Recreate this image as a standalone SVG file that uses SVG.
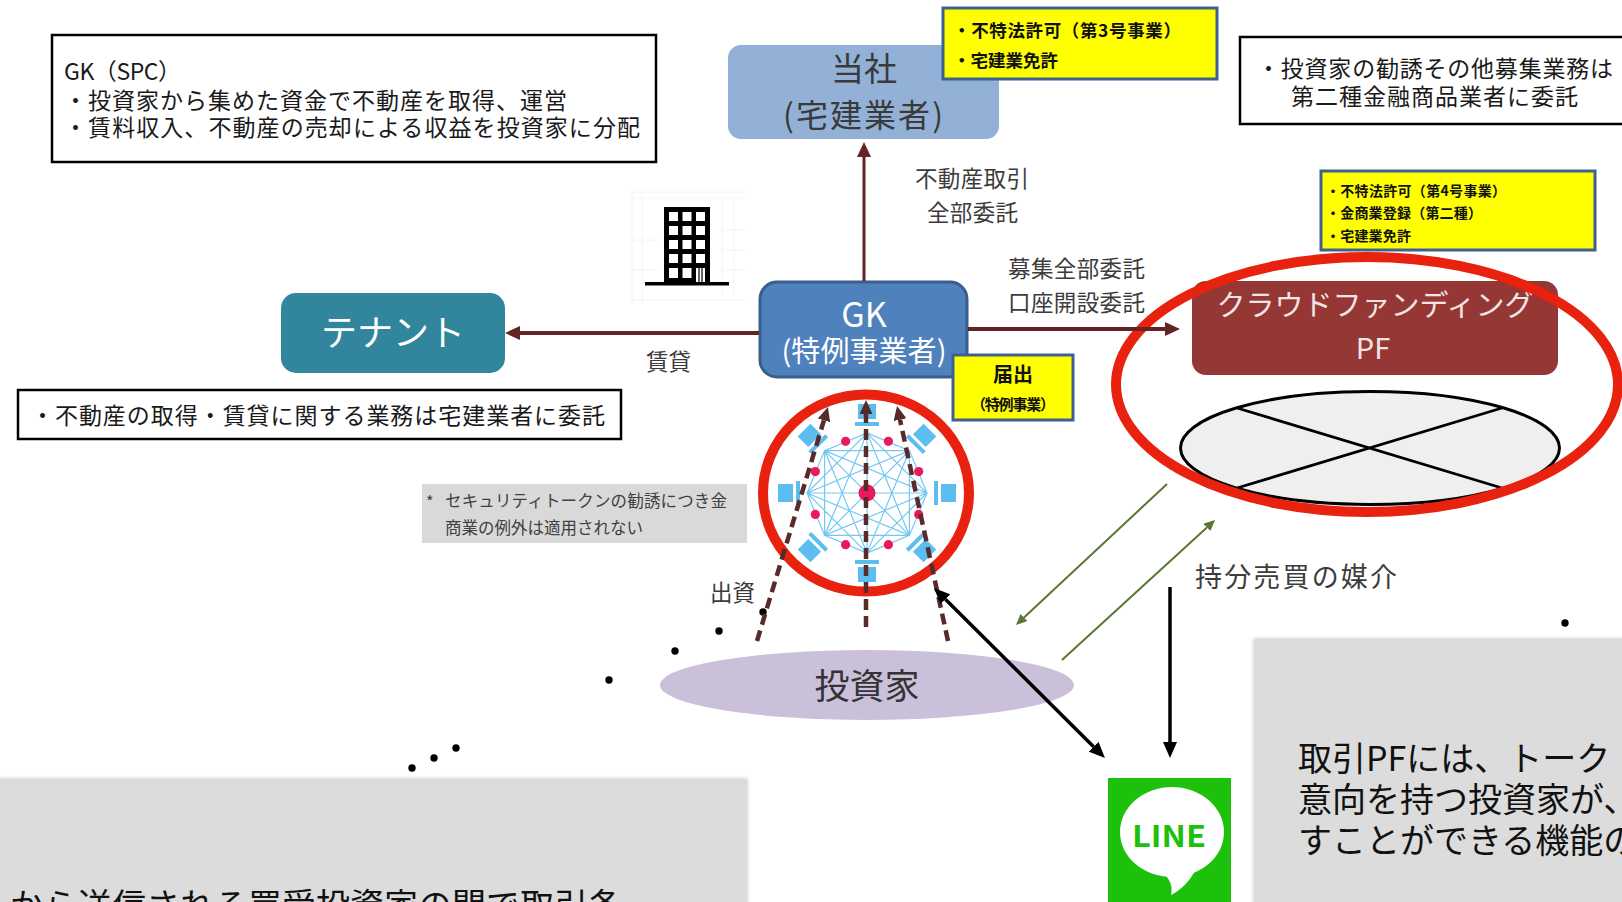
<svg xmlns="http://www.w3.org/2000/svg" width="1622" height="902" viewBox="0 0 1622 902">
  <style>
    text { font-family: 'Noto Sans CJK JP', 'Noto Sans', sans-serif; }
    .note { fill: #fff; stroke: #000; stroke-width: 2.5; }
    .tx { fill: #1a1a1a; font-size: 23px; }
    .lbl { fill: #3c3c3c; font-size: 22.5px; }
    .lbl-lg { fill: #3c3c3c; font-size: 27px; }
    .ybox { fill: #ffff00; stroke: #3e6190; stroke-width: 3; }
    .yb { fill: #111; font-weight: bold; }
    .wt { fill: #fff; }
    .mid { text-anchor: middle; }
    .maroon { stroke: #632523; fill: none; }
    .dash { stroke: #582a2a; stroke-width: 4.5; stroke-dasharray: 11 6; fill: none; }
    .blk { stroke: #000; stroke-width: 3.5; fill: none; }
    .olive { stroke: #5c7632; stroke-width: 2; fill: none; }
    .dot { fill: #000; }
    .panel { fill: #dcdcdc; }
    .net { stroke: #74c8f2; stroke-width: 1.2; fill: none; }
    .pcfill { fill: #5bbdf0; }
    .pink { fill: #e8195e; }
    .ring { fill: none; stroke: #e8220f; stroke-width: 10; }
  </style>
  <defs>
    <marker id="mh" viewBox="0 -7 15 14" refX="0" refY="0" markerWidth="15" markerHeight="14" markerUnits="userSpaceOnUse" orient="auto">
      <path d="M0,-7 L15,0 L0,7 z" fill="#632523"/>
    </marker>
    <marker id="dh" viewBox="0 -6.5 14 13" refX="0" refY="0" markerWidth="14" markerHeight="13" markerUnits="userSpaceOnUse" orient="auto">
      <path d="M0,-6.5 L14,0 L0,6.5 z" fill="#582a2a"/>
    </marker>
    <marker id="bh" viewBox="0 -7 16 14" refX="0" refY="0" markerWidth="16" markerHeight="14" markerUnits="userSpaceOnUse" orient="auto-start-reverse">
      <path d="M0,-7 L16,0 L0,7 z" fill="#000"/>
    </marker>
    <marker id="oh" viewBox="0 -5 11 10" refX="0" refY="0" markerWidth="11" markerHeight="10" markerUnits="userSpaceOnUse" orient="auto">
      <path d="M0,-5 L11,0 L0,5 z" fill="#5c7632"/>
    </marker>
    <!-- one terminal of the network, drawn pointing outward along -y -->
    <g id="pc">
      <rect x="-9" y="-89" width="18" height="15" class="pcfill"/>
      <rect x="-12" y="-71" width="24" height="4" class="pcfill"/>
    </g>
    <filter id="soft" x="-5%" y="-5%" width="110%" height="110%">
      <feDropShadow dx="0" dy="0" stdDeviation="2" flood-color="#000" flood-opacity="0.25"/>
    </filter>
  </defs>

  <!-- faint backdrop behind the building icon -->
  <g id="backdrop" stroke="#f4f4f4" stroke-width="1" fill="none">
    <path d="M630,192 H745 M630,198 H745 M630,300 H745 M632,192 V304 M642,192 V304 M722,200 V300 M734,200 V300 M722,230 H745 M722,250 H745 M722,270 H745 M630,240 H660 M630,270 H660"/>
  </g>

  <!-- building icon -->
  <g id="building">
    <rect x="664" y="207" width="46" height="76" fill="#000"/>
    <g fill="#fff">
      <rect x="669" y="212" width="9" height="9"/><rect x="682.5" y="212" width="9" height="9"/><rect x="696" y="212" width="9" height="9"/>
      <rect x="669" y="226" width="9" height="9"/><rect x="682.5" y="226" width="9" height="9"/><rect x="696" y="226" width="9" height="9"/>
      <rect x="669" y="240" width="9" height="9"/><rect x="682.5" y="240" width="9" height="9"/><rect x="696" y="240" width="9" height="9"/>
      <rect x="669" y="254" width="9" height="9"/><rect x="682.5" y="254" width="9" height="9"/><rect x="696" y="254" width="9" height="9"/>
      <rect x="669" y="268" width="9" height="10"/><rect x="682.5" y="268" width="9" height="10"/><rect x="696" y="268" width="9" height="15"/>
    </g>
    <path d="M699,268 V283 M702,268 V283" stroke="#000" stroke-width="1.2"/>
    <rect x="645" y="282" width="84" height="3.5" fill="#000"/>
  </g>

  <!-- explanatory notes -->
  <g id="note-gk-spc">
    <rect x="52" y="35" width="604" height="127" class="note"/>
    <text class="tx" x="64" y="80" textLength="117">GK（SPC）</text>
    <text class="tx" x="64" y="109" textLength="503">・投資家から集めた資金で不動産を取得、運営</text>
    <text class="tx" x="64" y="136" textLength="576">・賃料収入、不動産の売却による収益を投資家に分配</text>
  </g>
  <g id="note-solicitation">
    <rect x="1240" y="37" width="400" height="87" class="note"/>
    <text class="tx" x="1257" y="77" textLength="356">・投資家の勧誘その他募集業務は</text>
    <text class="tx" x="1291" y="105" textLength="287">第二種金融商品業者に委託</text>
  </g>
  <g id="note-realestate">
    <rect x="18" y="390" width="603" height="49" class="note"/>
    <text class="tx" x="31" y="424" textLength="574">・不動産の取得・賃貸に関する業務は宅建業者に委託</text>
  </g>
  <g id="note-security-token">
    <rect x="422" y="484" width="325" height="59" fill="#d9d9d9"/>
    <text x="426" y="508" font-size="16" fill="#404040">*</text>
    <text x="445" y="507" font-size="16.5" fill="#404040" textLength="282">セキュリティトークンの勧誘につき金</text>
    <text x="445" y="534" font-size="16.5" fill="#404040" textLength="198">商業の例外は適用されない</text>
  </g>

  <!-- 当社 -->
  <g id="node-company">
    <rect x="728" y="45" width="271" height="94" rx="13" fill="#93b1d6"/>
    <text class="mid" x="864" y="81" font-size="33" fill="#3a3a3a">当社</text>
    <text class="mid" x="863" y="127" font-size="32" fill="#3a3a3a" textLength="160">(宅建業者)</text>
  </g>
  <g id="license-company">
    <rect x="943" y="8" width="274" height="71" class="ybox"/>
    <text class="yb" x="953" y="37" font-size="17.5" textLength="228">・不特法許可（第3号事業）</text>
    <text class="yb" x="953" y="67" font-size="17.5" textLength="105">・宅建業免許</text>
  </g>

  <!-- GK -->
  <g id="node-gk">
    <rect x="760" y="282" width="207" height="95" rx="17" fill="#4f81bd" stroke="#3a5f8b" stroke-width="3"/>
    <text class="mid wt" x="864" y="327" font-size="34">GK</text>
    <text class="mid wt" x="864" y="362" font-size="29" textLength="165">(特例事業者)</text>
  </g>
  <g id="notice-gk">
    <rect x="953" y="355" width="120" height="65" class="ybox"/>
    <text class="yb mid" x="1013" y="382" font-size="20">届出</text>
    <text class="yb mid" x="1013" y="410" font-size="15" textLength="84">（特例事業）</text>
  </g>

  <!-- テナント -->
  <g id="node-tenant">
    <rect x="281" y="293" width="224" height="80" rx="15" fill="#31859c"/>
    <text class="mid wt" x="393" y="346" font-size="36">テナント</text>
  </g>

  <!-- クラウドファンディングPF -->
  <g id="node-cf">
    <rect x="1192" y="281" width="366" height="94" rx="14" fill="#953735"/>
    <text class="mid" x="1375" y="316" font-size="29" fill="#f3e4e4" textLength="317">クラウドファンディング</text>
    <text class="mid" x="1373" y="359" font-size="29" fill="#f3e4e4">PF</text>
  </g>
  <g id="node-cf-disabled">
    <ellipse cx="1370" cy="448" rx="189.5" ry="56.5" fill="#efefef" stroke="#000" stroke-width="3"/>
    <path d="M1237,408 L1502,488 M1502,408 L1237,488" stroke="#000" stroke-width="2.8"/>
  </g>
  <g id="license-cf">
    <rect x="1321" y="171" width="274" height="79" class="ybox"/>
    <text class="yb" x="1326" y="196" font-size="14" textLength="180">・不特法許可（第4号事業）</text>
    <text class="yb" x="1326" y="218" font-size="14" textLength="156">・金商業登録（第二種）</text>
    <text class="yb" x="1326" y="241" font-size="14" textLength="85">・宅建業免許</text>
  </g>

  <!-- 投資家 -->
  <g id="node-investor">
    <ellipse cx="867" cy="685" rx="207" ry="35" fill="#cbc0da"/>
    <text class="mid" x="867" y="699" font-size="35" fill="#333">投資家</text>
  </g>

  <!-- blockchain network -->
  <g id="node-blockchain">
    <path class="net" d="M927,493 L909.4,535.4 L867,553 L824.6,535.4 L807,493 L824.6,450.6 L867,433 L909.4,450.6 Z
      M927,493 L867,553 L807,493 L867,433 Z
      M909.4,535.4 L824.6,535.4 L824.6,450.6 L909.4,450.6 Z
      M927,493 L824.6,535.4 L867,433 L909.4,535.4 L807,493 L909.4,450.6 L867,553 L824.6,450.6 Z
      M927,493 L807,493 M909.4,535.4 L824.6,450.6 M867,553 L867,433 M824.6,535.4 L909.4,450.6"/>
    <use href="#pc" transform="translate(867 493)"/>
    <use href="#pc" transform="translate(867 493) rotate(45)"/>
    <use href="#pc" transform="translate(867 493) rotate(90)"/>
    <use href="#pc" transform="translate(867 493) rotate(135)"/>
    <use href="#pc" transform="translate(867 493) rotate(180)"/>
    <use href="#pc" transform="translate(867 493) rotate(225)"/>
    <use href="#pc" transform="translate(867 493) rotate(270)"/>
    <use href="#pc" transform="translate(867 493) rotate(315)"/>
    <circle class="pink" cx="918.7" cy="514.4" r="4.6"/>
    <circle class="pink" cx="918.7" cy="471.6" r="4.6"/>
    <circle class="pink" cx="815.3" cy="514.4" r="4.6"/>
    <circle class="pink" cx="815.3" cy="471.6" r="4.6"/>
    <circle class="pink" cx="888.4" cy="544.7" r="4.6"/>
    <circle class="pink" cx="845.6" cy="544.7" r="4.6"/>
    <circle class="pink" cx="888.4" cy="441.3" r="4.6"/>
    <circle class="pink" cx="845.6" cy="441.3" r="4.6"/>
    <circle class="pink" cx="867" cy="493" r="8.5"/>
  </g>

  <!-- red highlight rings -->
  <ellipse class="ring" cx="866" cy="493" rx="103" ry="98.5"/>
  <ellipse class="ring" cx="1367" cy="384.5" rx="251" ry="127.5"/>

  <!-- connector labels -->
  <g id="labels">
    <text class="lbl" x="915" y="187" textLength="114">不動産取引</text>
    <text class="lbl" x="927" y="221" textLength="91">全部委託</text>
    <text class="lbl" x="1008" y="277" textLength="137">募集全部委託</text>
    <text class="lbl" x="1008" y="311" textLength="137">口座開設委託</text>
    <text class="lbl" x="646" y="370" textLength="45">賃貸</text>
    <text class="lbl" x="710" y="601" textLength="45">出資</text>
    <text class="lbl-lg" x="1195" y="587" textLength="202">持分売買の媒介</text>
  </g>

  <!-- ellipsis dots -->
  <g id="dots">
    <circle class="dot" cx="763" cy="612" r="3.7"/>
    <circle class="dot" cx="719" cy="631" r="3.7"/>
    <circle class="dot" cx="675" cy="651" r="3.7"/>
    <circle class="dot" cx="609" cy="680" r="3.7"/>
    <circle class="dot" cx="456" cy="748" r="3.7"/>
    <circle class="dot" cx="434" cy="758" r="3.7"/>
    <circle class="dot" cx="412" cy="768" r="3.7"/>
    <circle class="dot" cx="1565" cy="623" r="3.7"/>
  </g>

  <!-- lower panels -->
  <g id="panel-left">
    <rect x="-6" y="779" width="753" height="140" class="panel" filter="url(#soft)"/>
    <text x="10" y="918" font-size="34" fill="#111">から送信される買受投資家の間で取引条</text>
  </g>
  <g id="panel-right">
    <rect x="1254" y="639" width="380" height="280" class="panel" filter="url(#soft)"/>
    <text x="1298" y="771" font-size="34" fill="#111">取引PFには、トーク</text>
    <text x="1298" y="812" font-size="34" fill="#111">意向を持つ投資家が、</text>
    <text x="1298" y="853" font-size="34" fill="#111">すことができる機能の</text>
  </g>

  <!-- LINE app -->
  <g id="node-line">
    <rect x="1108" y="778" width="123" height="130" fill="#1dc10c"/>
    <ellipse cx="1172" cy="832" rx="52" ry="45" fill="#fff"/>
    <path d="M1162,872 C1170,879 1173,886 1171,895 C1181,890 1190,881 1196,869 Z" fill="#fff"/>
    <text x="1169" y="847" text-anchor="middle" font-family="'Liberation Sans', Arial, sans-serif" font-weight="bold" font-size="30" fill="#1dc10c" textLength="74" lengthAdjust="spacingAndGlyphs">LINE</text>
  </g>

  <!-- connectors -->
  <g id="connectors">
    <line class="maroon" x1="759" y1="333" x2="520" y2="333" stroke-width="4" marker-end="url(#mh)"/>
    <line class="maroon" x1="864" y1="281" x2="864" y2="157" stroke-width="3" marker-end="url(#mh)"/>
    <line class="maroon" x1="968" y1="329" x2="1165" y2="329" stroke-width="4" marker-end="url(#mh)"/>
    <line class="dash" x1="866" y1="627" x2="866" y2="414" marker-end="url(#dh)"/>
    <line class="dash" x1="757" y1="641" x2="823.9" y2="420.4" marker-end="url(#dh)"/>
    <line class="dash" x1="948" y1="641" x2="900" y2="419.7" marker-end="url(#dh)"/>
    <line class="blk" x1="945.4" y1="599.3" x2="1093.6" y2="746.7" marker-start="url(#bh)" marker-end="url(#bh)"/>
    <line class="blk" x1="1170" y1="587" x2="1170" y2="742" marker-end="url(#bh)"/>
    <line class="olive" x1="1167" y1="484" x2="1024" y2="617.5" marker-end="url(#oh)"/>
    <line class="olive" x1="1062" y1="660" x2="1206.9" y2="527.4" marker-end="url(#oh)"/>
  </g>
</svg>
